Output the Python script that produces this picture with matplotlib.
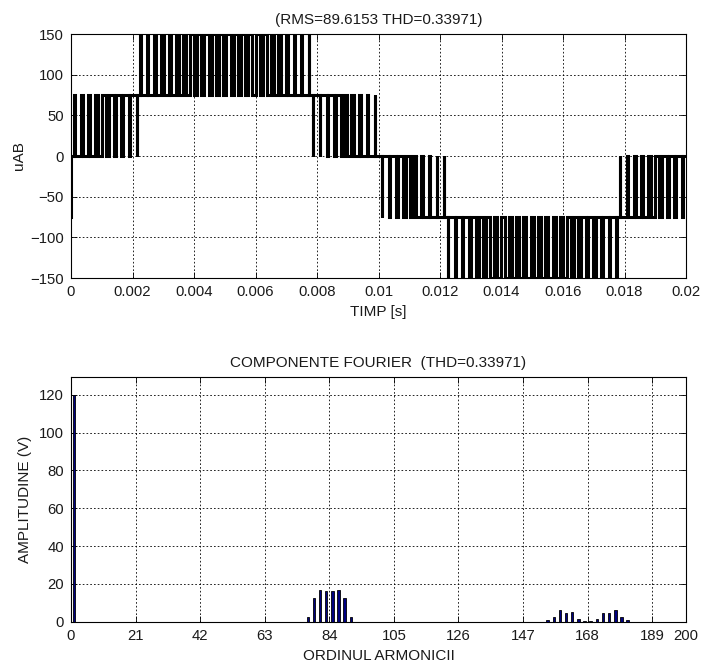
import numpy as np
import matplotlib
matplotlib.use("Agg")
import matplotlib.pyplot as plt

plt.rcParams['font.family'] = ['Liberation Sans', 'DejaVu Sans']

# ---------------- data ----------------
# top panel: line-to-line voltage uAB (5-level PWM)
level_step = 75.0          # V per level
start_level = -75.0        # value at t = 0 (initial sample)
period_T = 0.02            # fundamental period [s]
carrier_per_half = 42      # carrier periods per half cycle
# average level (in units of level_step) in each carrier period of the positive half-cycle
duty_half = [0.06, 0.18, 0.30, 0.41, 0.53, 0.64, 0.75, 0.85, 0.95, 1.04,
             1.13, 1.21, 1.29, 1.35, 1.42, 1.47, 1.51, 1.55, 1.57, 1.59,
             1.60, 1.60, 1.59, 1.57, 1.55, 1.51, 1.47, 1.42, 1.35, 1.29,
             1.21, 1.13, 1.04, 0.95, 0.85, 0.75, 0.64, 0.53, 0.41, 0.30,
             0.18, 0.06]

top_title = "(RMS=89.6153 THD=0.33971)"
top_xticks = [0, 0.002, 0.004, 0.006, 0.008, 0.01, 0.012, 0.014, 0.016, 0.018, 0.02]
top_xticklabels = ["0", "0.002", "0.004", "0.006", "0.008", "0.01", "0.012",
                   "0.014", "0.016", "0.018", "0.02"]
top_yticks = [-150, -100, -50, 0, 50, 100, 150]

# bottom panel: Fourier components
harm_order = [1, 77, 79, 81, 83, 85, 87, 89, 91,
              155, 157, 159, 161, 163, 165, 167, 169, 171, 173, 175, 177, 179, 181]
harm_amp = [120.0, 2.3, 12.6, 17.0, 16.0, 16.0, 17.0, 12.6, 2.3,
            0.7, 2.5, 6.4, 4.8, 5.0, 1.4, 0.5, 0.5, 1.4, 4.8, 4.8, 6.4, 2.7, 0.7]
bot_title = "COMPONENTE FOURIER  (THD=0.33971)"
bot_xticks = [0, 21, 42, 63, 84, 105, 126, 147, 168, 189, 200]
bot_yticks = [0, 20, 40, 60, 80, 100, 120]

# ---------------- build waveform from duty data ----------------
Tc = period_T / 2 / carrier_per_half
tt = [0.0, 0.0]
vv = [start_level, 0.0]
duties = duty_half + duty_half
for k, d in enumerate(duties):
    sgn = 1.0 if k < carrier_per_half else -1.0
    base = int(np.floor(d))
    frac = d - base
    low = sgn * base * level_step
    high = sgn * (base + 1) * level_step
    t0 = k * Tc
    tc = t0 + Tc / 2
    w = frac * Tc
    tt += [t0, tc - w / 2, tc - w / 2, tc + w / 2, tc + w / 2, t0 + Tc]
    vv += [low, low, high, high, low, low]

# ---------------- plotting ----------------
text_color = '#1a1a1a'
fig = plt.figure(figsize=(7.02, 6.66), dpi=100)
ax1 = fig.add_axes([71 / 702, 1 - 278 / 666, 615 / 702, 244 / 666])
ax2 = fig.add_axes([71 / 702, 1 - 621.7 / 666, 615 / 702, 244.7 / 666])

grid_kw = dict(color='black', linestyle=(0, (2, 2.5)), linewidth=0.6)

ax1.plot(tt, vv, color='black', linewidth=2.2, solid_joinstyle='miter')
ax1.set_xlim(0, 0.02)
ax1.set_ylim(-150, 150)
ax1.set_xticks(top_xticks)
ax1.set_xticklabels(top_xticklabels)
ax1.set_yticks(top_yticks)
ax1.grid(True, **grid_kw)
ax1.set_title(top_title, fontsize=11, pad=7, color=text_color)
ax1.set_xlabel("TIMP [s]", fontsize=11, labelpad=4.5, color=text_color)
ax1.set_ylabel("uAB", fontsize=11, labelpad=3, color=text_color)

ax2.bar(harm_order, harm_amp, width=0.8, color='#000080', edgecolor='black',
        linewidth=0.6, zorder=3)
ax2.set_xlim(0, 200)
ax2.set_ylim(0, 129.4)
ax2.set_xticks(bot_xticks)
ax2.set_yticks(bot_yticks)
ax2.grid(True, **grid_kw)
ax2.set_axisbelow(True)
ax2.set_title(bot_title, fontsize=11, pad=7, color=text_color)
ax2.set_xlabel("ORDINUL ARMONICII", fontsize=11, labelpad=4.5, color=text_color)
ax2.set_ylabel("AMPLITUDINE (V)", fontsize=11, labelpad=5, color=text_color)

for ax in (ax1, ax2):
    ax.tick_params(direction='in', length=4, width=0.6, labelsize=10.7,
                   top=True, right=True, pad=5, labelcolor=text_color)
    for s in ax.spines.values():
        s.set_linewidth(0.8)
        s.set_color('black')

fig.savefig("out.png", dpi=100)
